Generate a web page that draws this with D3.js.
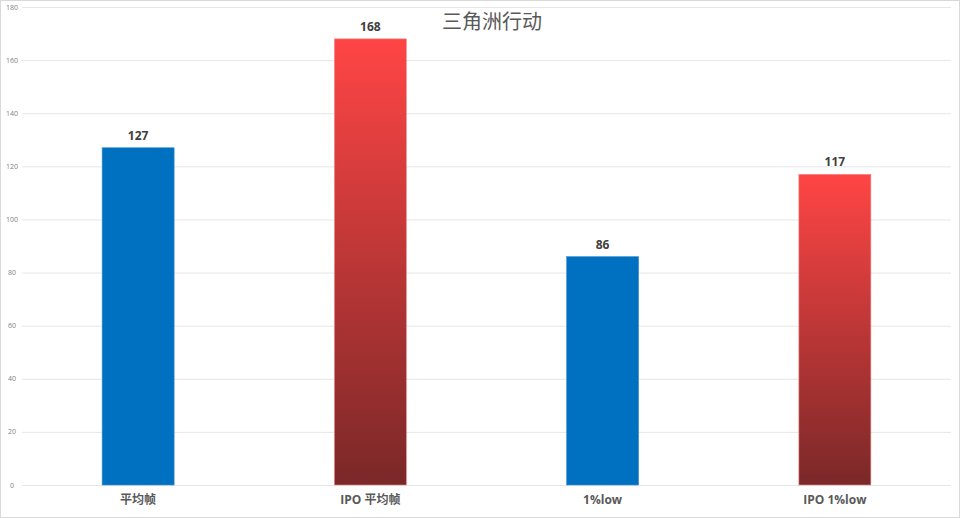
<!DOCTYPE html>
<html>
<head>
<meta charset="utf-8">
<script src="https://cdn.jsdelivr.net/npm/d3@7"></script>
<style>
  body { margin: 0; background: #fff; }
  svg { display: block; }
</style>
</head>
<body>
<script>
const width = 960;
const height = 518;

const categories = ['平均帧', 'IPO 平均帧', '1%low', 'IPO 1%low'];
const values = [127, 168, 86, 117];
const isIpo = [false, true, false, true];
const yTicks = [0, 20, 40, 60, 80, 100, 120, 140, 160, 180];
const title = '三角洲行动';

const margin = {top: 7, right: 9, bottom: 33, left: 22};

const svg = d3.select('body').append('svg').attr('width', width).attr('height', height);

// frame
svg.append('rect').attr('x', 0.5).attr('y', 0.5).attr('width', width - 1).attr('height', height - 1)
    .style('fill', '#fff').style('stroke', '#d9d9d9');

const defs = svg.append('defs');
const grad = defs.append('linearGradient').attr('id', 'redGrad')
    .attr('x1', 0).attr('y1', 0).attr('x2', 0).attr('y2', 1);
grad.append('stop').attr('offset', '0%').attr('stop-color', '#ff4545');
grad.append('stop').attr('offset', '100%').attr('stop-color', '#7a2828');

const x = d3.scaleBand().domain(categories).range([margin.left, width - margin.right]).paddingInner(0.69).paddingOuter(0.345);
const y = d3.scaleLinear().domain([0, 180]).range([height - margin.bottom, margin.top]);

// gridlines
svg.selectAll('line.grid').data(yTicks).enter().append('line').classed('grid', true)
    .attr('x1', margin.left).attr('x2', width - margin.right)
    .attr('y1', d => y(d) + 0.5).attr('y2', d => y(d) + 0.5)
    .style('stroke', '#e6e6e6').style('stroke-width', 1);

// y tick labels
svg.selectAll('text.ytick').data(yTicks).enter().append('text').classed('ytick', true)
    .attr('x', 12).attr('y', d => y(d) + 2.5)
    .text(d => d)
    .style('font-family', 'Open Sans, Noto Sans, sans-serif').style('font-size', '7px')
    .style('fill', '#7f7f7f').style('text-anchor', 'middle');

// bars
svg.selectAll('rect.bar').data(categories).enter().append('rect').classed('bar', true)
    .attr('x', d => x(d)).attr('width', x.bandwidth())
    .attr('y', (d, i) => y(values[i])).attr('height', (d, i) => y(0) - y(values[i]))
    .style('fill', (d, i) => isIpo[i] ? 'url(#redGrad)' : '#0070c0')
    .style('stroke', (d, i) => isIpo[i] ? '#f08a8a' : '#3f8fd0')
    .style('stroke-width', 0.6);

// value labels
svg.selectAll('text.val').data(categories).enter().append('text').classed('val', true)
    .attr('x', d => x(d) + x.bandwidth() / 2).attr('y', (d, i) => y(values[i]) - 8)
    .text((d, i) => values[i])
    .style('font-family', 'Open Sans, Noto Sans, sans-serif').style('font-size', '12px').style('font-weight', 'bold')
    .style('fill', '#404040').style('text-anchor', 'middle');

// category labels
svg.selectAll('text.cat').data(categories).enter().append('text').classed('cat', true)
    .attr('x', d => x(d) + x.bandwidth() / 2).attr('y', height - 14)
    .text(d => d)
    .style('font-family', 'Open Sans, "Noto Sans CJK SC", sans-serif').style('font-size', '12px').style('font-weight', 'bold')
    .style('fill', '#595959').style('text-anchor', 'middle');

// title
svg.append('text')
    .attr('x', 492).attr('y', 29)
    .text(title)
    .style('font-family', '"Noto Sans CJK SC", sans-serif').style('font-size', '20px')
    .style('fill', '#595959').style('text-anchor', 'middle');
</script>
</body>
</html>
